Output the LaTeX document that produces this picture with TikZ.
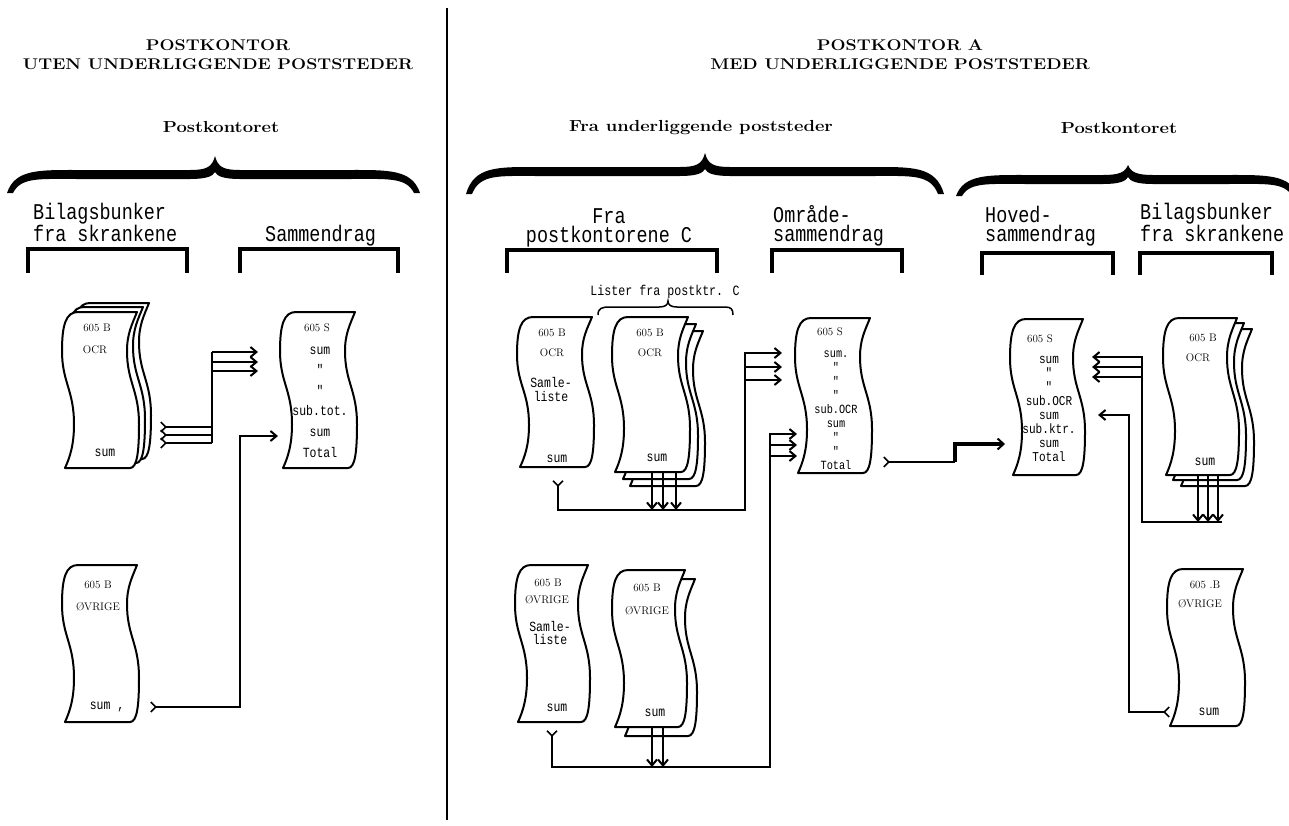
\documentclass[tikz,border=0pt]{standalone}
\usepackage{fontspec}
\usepackage{graphicx}
\usetikzlibrary{arrows.meta}
\newfontfamily\tw{Liberation Mono}[FakeStretch=0.82]
\newcommand\hx[1]{\scalebox{1.15}[1]{#1}}
\newcommand\sheet[4]{%
\filldraw[sheetst] ({#1+16},{#2}) -- ({#1+#3+10},{#2})
 .. controls ({#1+#3+5},{#2+0.08*#4}) and ({#1+#3},{#2+0.14*#4}) .. ({#1+#3},{#2+0.25*#4})
 .. controls ({#1+#3},{#2+0.45*#4}) and ({#1+#3+12},{#2+0.5*#4}) .. ({#1+#3+12},{#2+0.72*#4})
 .. controls ({#1+#3+12},{#2+0.9*#4}) and ({#1+#3+10},{#2+#4}) .. ({#1+#3+3},{#2+#4})
 -- ({#1+3},{#2+#4})
 .. controls ({#1+8},{#2+0.93*#4}) and ({#1+12},{#2+0.85*#4}) .. ({#1+12},{#2+0.72*#4})
 .. controls ({#1+12},{#2+0.5*#4}) and ({#1},{#2+0.45*#4}) .. ({#1},{#2+0.25*#4})
 .. controls ({#1},{#2+0.08*#4}) and ({#1+4},{#2}) .. cycle;}
\newcommand\bigbrace[6]{%
\fill ({#1-2},{#5}) .. controls ({#1+6},{#4-6}) and ({#1+30},{#4-5}) .. ({#1+70},{#4-5})
 -- ({#3-25},{#4-5}) .. controls ({#3-8},{#4-5}) and ({#3-3},{#4-8}) .. ({#3},{#6})
 .. controls ({#3+3},{#4-8}) and ({#3+8},{#4-5}) .. ({#3+25},{#4-5})
 -- ({#2-70},{#4-5}) .. controls ({#2-30},{#4-5}) and ({#2-6},{#4-6}) .. ({#2+2},{#5})
 -- ({#2-4},{#5}) .. controls ({#2-12},{#4+2}) and ({#2-30},{#4+4}) .. ({#2-70},{#4+4})
 -- ({#3+25},{#4+4}) .. controls ({#3+8},{#4+4}) and ({#3+2},{#4+1}) .. ({#3},{#4-3})
 .. controls ({#3-2},{#4+1}) and ({#3-8},{#4+4}) .. ({#3-25},{#4+4})
 -- ({#1+70},{#4+4}) .. controls ({#1+30},{#4+4}) and ({#1+12},{#4+2}) .. ({#1+4},{#5}) -- cycle;}
\tikzset{
 sheetst/.style={fill=white,draw=black,line width=2pt,line join=round},
 conn/.style={line width=1.6pt},
 arr/.style={conn,-{Straight Barb[length=6pt,width=10pt,line width=2pt]}},
 tl/.style={conn,{Straight Barb[reversed,length=5pt,width=10pt,line width=1.6pt]}-},
 tlarr/.style={conn,{Straight Barb[reversed,length=5pt,width=10pt,line width=1.6pt]}-{Straight Barb[length=6pt,width=10pt,line width=2pt]}},
 brk/.style={line width=3.5pt},
 hd/.style={inner sep=0pt,font=\fontsize{15.5}{18}\selectfont\bfseries},
 sh/.style={inner sep=0pt,font=\fontsize{16}{18}\selectfont\bfseries},
 lb/.style={inner sep=0pt,anchor=base west,align=left,font=\tw\fontsize{22.5}{19}\selectfont},
 ds/.style={inner sep=0pt,font=\fontsize{11}{12}\selectfont},
 dm/.style={inner sep=0pt,font=\tw\fontsize{14}{15}\selectfont},
 col/.style={inner sep=0pt,anchor=base,align=center}
}
\begin{document}
\begin{tikzpicture}[x=1pt,y=-1pt]
\useasboundingbox (0,0) rectangle (1289,825);
% divider
\draw[line width=1.8pt] (447,8) -- (447,820);
% headers
\node[hd] (H1a) at (218,45) {\hx{POSTKONTOR}};
\node[hd] (H1b) at (218,64) {\hx{UTEN UNDERLIGGENDE POSTSTEDER}};
\node[hd] (H2a) at (900,45) {\hx{POSTKONTOR A}};
\node[hd] (H2b) at (900,64) {\hx{MED UNDERLIGGENDE POSTSTEDER}};
\node[sh] (S1) at (221,127) {\hx{Postkontoret}};
\node[sh] (S2) at (701,128) {\hx{Fra underliggende poststeder}};
\node[sh] (S3) at (1119,128) {\hx{Postkontoret}};
% braces
\bigbrace{9}{418}{215}{175}{193}{156}
\bigbrace{468}{942}{705}{172}{194}{153}
\bigbrace{958}{1296}{1128}{180}{196}{165}
% column labels (anchor = baseline of last line)
\node[lb] (L1) at (33,241) {Bilagsbunker\\fra skrankene};
\node[lb] (L2) at (265,241) {Sammendrag};
\node[lb,anchor=base,align=center] (L3) at (609,242) {Fra\\postkontorene C};
\node[lb] (L4) at (773,241) {Område-\\sammendrag};
\node[lb] (L5) at (985,241) {Hoved-\\sammendrag};
\node[lb] (L6) at (1140,241) {Bilagsbunker\\fra skrankene};
% brackets
\draw[brk] (28,273) -- (28,249) -- (187,249) -- (187,273);
\draw[brk] (240,273) -- (240,249) -- (398,249) -- (398,273);
\draw[brk] (507,273) -- (507,250) -- (717,250) -- (717,273);
\draw[brk] (772,273) -- (772,250) -- (902,250) -- (902,273);
\draw[brk] (982,275) -- (982,253) -- (1113,253) -- (1113,275);
\draw[brk] (1140,275) -- (1140,253) -- (1272,253) -- (1272,275);
% small brace
\node[inner sep=0pt,font=\tw\fontsize{14.2}{15}\selectfont] (LC) at (665,292) {Lister fra postktr. C};
\draw[line width=1.5pt] (598,315) .. controls (598,308) and (602,307) .. (610,307) -- (659,307)
 .. controls (665,307) and (668,305) .. (668,301) .. controls (668,305) and (671,307) .. (677,307)
 -- (725,307) .. controls (731,307) and (733,309) .. (733,315);
% ---------- sheets ----------
\sheet{74}{303}{65}{156}\sheet{68}{307}{65}{156}\sheet{62}{312}{65}{156}
\sheet{280}{312}{65}{156}
\sheet{62}{565}{65}{157}
\sheet{517}{317}{65}{150}
\sheet{627}{331}{66}{155}\sheet{620}{324}{66}{155}\sheet{612}{317}{66}{155}
\sheet{515}{565}{63}{157}
\sheet{622}{579}{63}{157}\sheet{612}{570}{63}{157}
\sheet{795}{318}{65}{155}
\sheet{1010}{319}{63}{156}
\sheet{1178}{329}{64}{157}\sheet{1170}{323}{64}{157}\sheet{1163}{318}{64}{157}
\sheet{1167}{569}{66}{157}
% ---------- sheet texts ----------
% left stack
\node[ds] (a605) at (97,328) {605 B};
\node[ds] (aocr) at (95,350) {OCR};
\node[dm] (asum) at (105,453) {sum};
% left Sammendrag
\node[ds] (b605) at (317,328) {605 S};
\node[col,font=\tw\fontsize{14}{20.6}\selectfont] (bcol) at (320,457) {sum\\"\\"\\sub.tot.\\sum\\Total};
% left ØVRIGE
\node[ds] (c605) at (98,585) {605 B};
\node[ds] (covr) at (98,607) {ØVRIGE};
\node[dm] (csum) at (107,707) {sum ,};
% middle Samle OCR
\node[ds] (d605) at (552,333) {605 B};
\node[ds] (docr) at (552,353) {OCR};
\node[col,font=\tw\fontsize{14}{14}\selectfont] (dsa) at (551,401) {Samle-\\liste};
\node[dm] (dsum) at (557,459) {sum};
% middle stack OCR
\node[ds] (e605) at (650,333) {605 B};
\node[ds] (eocr) at (650,353) {OCR};
\node[dm] (esum) at (657,458) {sum};
% middle ØVRIGE Samle
\node[ds] (f605) at (548,583) {605 B};
\node[ds] (fovr) at (547,600) {ØVRIGE};
\node[col,font=\tw\fontsize{14}{13}\selectfont] (fsa) at (550,644) {Samle-\\liste};
\node[dm] (fsum) at (557,708) {sum};
% middle ØVRIGE stack
\node[ds] (g605) at (647,588) {605 B};
\node[ds] (govr) at (647,611) {ØVRIGE};
\node[dm] (gsum) at (655,713) {sum};
% Område
\node[ds] (h605) at (830,332) {605 S};
\node[col,font=\tw\fontsize{12.5}{14}\selectfont] (hcol) at (836,469) {sum.\\"\\"\\"\\sub.OCR\\sum\\"\\"\\Total};
% Hoved
\node[ds] (i605) at (1040,339) {605 S};
\node[col,font=\tw\fontsize{13.5}{13.9}\selectfont] (icol) at (1049,461) {sum\\"\\"\\sub.OCR\\sum\\sub.ktr.\\sum\\Total};
% right stack
\node[ds] (j605) at (1203,338) {605 B};
\node[ds] (jocr) at (1198,358) {OCR};
\node[dm] (jsum) at (1205,462) {sum};
% right ØVRIGE
\node[ds] (k605) at (1205,585) {605 .B};
\node[ds] (kovr) at (1200,604) {ØVRIGE};
\node[dm] (ksum) at (1209,712) {sum};
% ---------- connectors ----------
% left group 1
\coordinate (a1) at (160,427); \coordinate (a2) at (160,435); \coordinate (a3) at (160,443);
\coordinate (busL) at (212,352); \coordinate (busLb) at (212,443);
\coordinate (h1) at (258,352); \coordinate (h2) at (258,362); \coordinate (h3) at (258,371);
\draw[tl] (a1) -- (a1 -| busL);
\draw[tl] (a2) -- (a2 -| busL);
\draw[tl] (a3) -- (busLb);
\draw[conn] (busL) -- (busLb);
\draw[arr] (busL) -- (h1);
\draw[arr] (busL |- h2) -- (h2);
\draw[arr] (busL |- h3) -- (h3);
% left group 2
\coordinate (b0) at (150,707); \coordinate (b1) at (240,707); \coordinate (hb) at (278,436);
\draw[tlarr] (b0) -- (b1) |- (hb);
% middle group 1
\coordinate (c0) at (558,480); \coordinate (c1) at (558,510); \coordinate (c2) at (745,510);
\coordinate (ch1) at (782,353); \coordinate (ch2) at (782,367); \coordinate (ch3) at (782,380);
\draw[tlarr] (c0) -- (c1) -- (c2) |- (ch1);
\draw[arr] (c2 |- ch2) -- (ch2);
\draw[arr] (c2 |- ch3) -- (ch3);
\coordinate (s1) at (652,472); \coordinate (s2) at (663,472); \coordinate (s3) at (676,472);
\draw[arr] (s1) -- (s1 |- c1);
\draw[arr] (s2) -- (s2 |- c1);
\draw[arr] (s3) -- (s3 |- c1);
% middle group 2
\coordinate (d0) at (552,730); \coordinate (d1) at (552,767); \coordinate (d2) at (770,767);
\coordinate (dh1) at (797,434); \coordinate (dh2) at (797,445); \coordinate (dh3) at (797,456);
\draw[tlarr] (d0) -- (d1) -- (d2) |- (dh1);
\draw[arr] (d2 |- dh2) -- (dh2);
\draw[arr] (d2 |- dh3) -- (dh3);
\coordinate (u1) at (652,727); \coordinate (u2) at (663,727);
\draw[arr] (u1) -- (u1 |- d1);
\draw[arr] (u2) -- (u2 |- d1);
% Område -> Hoved
\coordinate (e0) at (883,462); \coordinate (e1) at (955,462); \coordinate (e2) at (955,444); \coordinate (eh) at (1005,444);
\draw[tl] (e0) -- (e1);
\draw[line width=3.5pt,-{Straight Barb[length=6pt,width=11pt,line width=2pt]}] (e1) -- (e2) -- (eh);
% right group 1
\coordinate (r1) at (1198,475); \coordinate (r2) at (1208,475); \coordinate (r3) at (1218,475);
\coordinate (rb) at (1142,522); \coordinate (rbe) at (1222,522);
\coordinate (rh1) at (1092,357); \coordinate (rh2) at (1092,367); \coordinate (rh3) at (1092,377);
\draw[arr] (r1) -- (r1 |- rb);
\draw[arr] (r2) -- (r2 |- rb);
\draw[arr] (r3) -- (r3 |- rb);
\draw[arr] (rbe) -- (rb) |- (rh1);
\draw[arr] (rb |- rh2) -- (rh2);
\draw[arr] (rb |- rh3) -- (rh3);
% right group 2
\coordinate (g0) at (1170,712); \coordinate (g1) at (1129,712); \coordinate (gh) at (1098,415);
\draw[tlarr] (g0) -- (g1) |- (gh);
\end{tikzpicture}
\end{document}
